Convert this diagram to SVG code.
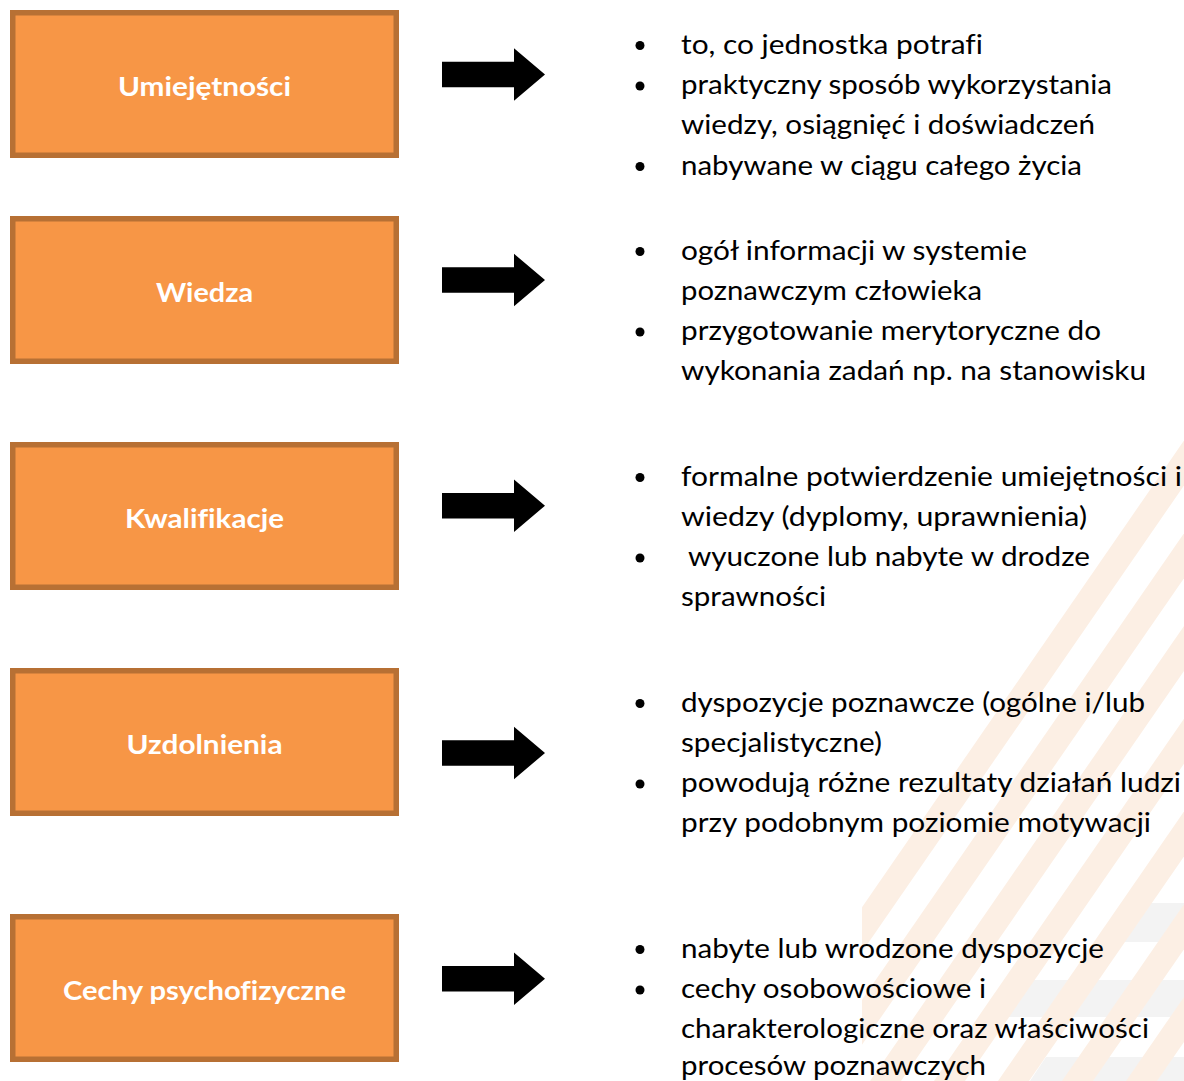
<svg xmlns="http://www.w3.org/2000/svg" width="1184" height="1081" viewBox="0 0 1184 1081">
<style>
.box{fill:#F79646;stroke:#B77034;stroke-width:5.5}
.lbl{font-family:Lato,"Liberation Sans",sans-serif;font-weight:700;font-size:27px;fill:#FFFFFF;text-anchor:middle;font-variant-ligatures:none}
.t{font-family:Lato,"Liberation Sans",sans-serif;font-size:27px;fill:#000000;font-variant-ligatures:none}
.arr{fill:#000000}
.bul{fill:#000000}
.stripe{fill:#FCEFE4}
.grey{fill:#F3F3F3}
</style>
<defs>
<clipPath id="wm"><polygon points="862,1081 862,904 1184,437 1184,1081"/></clipPath>
</defs>
<rect x="0" y="0" width="1184" height="1081" fill="#FFFFFF"/>
<g id="watermark" clip-path="url(#wm)">
<polygon class="grey" points="1150,903 1184,903 1184,942 1123,942"/>
<polygon class="grey" points="1025,980 1184,980 1184,1017 999,1017"/>
<polygon class="grey" points="1046,1057 1184,1057 1184,1081 1030,1081"/>
<polygon class="stripe" points="956,400 987,400 517,1081 486,1081"/>
<polygon class="stripe" points="1020,400 1051,400 581,1081 550,1081"/>
<polygon class="stripe" points="1084,400 1115,400 645,1081 614,1081"/>
<polygon class="stripe" points="1148,400 1179,400 709,1081 678,1081"/>
<polygon class="stripe" points="1212,400 1243,400 773,1081 742,1081"/>
<polygon class="stripe" points="1276,400 1307,400 837,1081 806,1081"/>
<polygon class="stripe" points="1340,400 1371,400 901,1081 870,1081"/>
<polygon class="stripe" points="1404,400 1435,400 965,1081 934,1081"/>
<polygon class="stripe" points="1468,400 1499,400 1029,1081 998,1081"/>
<polygon class="stripe" points="1532,400 1563,400 1093,1081 1062,1081"/>
<polygon class="stripe" points="1596,400 1627,400 1157,1081 1126,1081"/>
</g>
<g id="connectors">
<polygon class="arr" points="442,61.7 514,61.7 514,48.3 545,74.5 514,100.7 514,87.3 442,87.3"/>
<polygon class="arr" points="442,267.2 514,267.2 514,253.8 545,280 514,306.2 514,292.8 442,292.8"/>
<polygon class="arr" points="442,492.9 514,492.9 514,479.5 545,505.7 514,531.9 514,518.5 442,518.5"/>
<polygon class="arr" points="442,740.2 514,740.2 514,726.8 545,753 514,779.2 514,765.8 442,765.8"/>
<polygon class="arr" points="442,965.9 514,965.9 514,952.5 545,978.7 514,1004.9 514,991.5 442,991.5"/>
</g>
<g id="node-umiejetnosci">
<rect class="box" x="12.75" y="12.75" width="383.5" height="142.5"/>
<text class="lbl" x="204.5" y="95.5" textLength="173" lengthAdjust="spacingAndGlyphs">Umiejętności</text>
</g>
<g id="node-wiedza">
<rect class="box" x="12.75" y="218.75" width="383.5" height="142.5"/>
<text class="lbl" x="204.5" y="301.5" textLength="97" lengthAdjust="spacingAndGlyphs">Wiedza</text>
</g>
<g id="node-kwalifikacje">
<rect class="box" x="12.75" y="444.75" width="383.5" height="142.5"/>
<text class="lbl" x="204.5" y="527.5" textLength="159" lengthAdjust="spacingAndGlyphs">Kwalifikacje</text>
</g>
<g id="node-uzdolnienia">
<rect class="box" x="12.75" y="670.75" width="383.5" height="142.5"/>
<text class="lbl" x="204.5" y="753.5" textLength="156" lengthAdjust="spacingAndGlyphs">Uzdolnienia</text>
</g>
<g id="node-cechy">
<rect class="box" x="12.75" y="916.75" width="383.5" height="142.5"/>
<text class="lbl" x="204.5" y="999.5" textLength="283" lengthAdjust="spacingAndGlyphs">Cechy psychofizyczne</text>
</g>
<g id="desc-umiejetnosci">
<circle class="bul" cx="640" cy="45.5" r="4.5"/>
<circle class="bul" cx="640" cy="86" r="4.5"/>
<circle class="bul" cx="640" cy="166.5" r="4.5"/>
<text class="t" x="681" y="53.5" textLength="302" lengthAdjust="spacingAndGlyphs">to, co jednostka potrafi</text>
<text class="t" x="681" y="94" textLength="431" lengthAdjust="spacingAndGlyphs">praktyczny sposób wykorzystania</text>
<text class="t" x="681" y="134" textLength="414" lengthAdjust="spacingAndGlyphs">wiedzy, osiągnięć i doświadczeń</text>
<text class="t" x="681" y="174.5" textLength="401" lengthAdjust="spacingAndGlyphs">nabywane w ciągu całego życia</text>
</g>
<g id="desc-wiedza">
<circle class="bul" cx="640" cy="251.5" r="4.5"/>
<circle class="bul" cx="640" cy="332" r="4.5"/>
<text class="t" x="681" y="259.5" textLength="346" lengthAdjust="spacingAndGlyphs">ogół informacji w systemie</text>
<text class="t" x="681" y="299.5" textLength="301" lengthAdjust="spacingAndGlyphs">poznawczym człowieka</text>
<text class="t" x="681" y="340" textLength="420" lengthAdjust="spacingAndGlyphs">przygotowanie merytoryczne do</text>
<text class="t" x="681" y="380" textLength="465" lengthAdjust="spacingAndGlyphs">wykonania zadań np. na stanowisku</text>
</g>
<g id="desc-kwalifikacje">
<circle class="bul" cx="640" cy="477.5" r="4.5"/>
<circle class="bul" cx="640" cy="558" r="4.5"/>
<text class="t" x="681" y="485.5" textLength="501" lengthAdjust="spacingAndGlyphs">formalne potwierdzenie umiejętności i</text>
<text class="t" x="681" y="525.5" textLength="406" lengthAdjust="spacingAndGlyphs">wiedzy (dyplomy, uprawnienia)</text>
<text class="t" x="688" y="566" textLength="402" lengthAdjust="spacingAndGlyphs">wyuczone lub nabyte w drodze</text>
<text class="t" x="681" y="606" textLength="145" lengthAdjust="spacingAndGlyphs">sprawności</text>
</g>
<g id="desc-uzdolnienia">
<circle class="bul" cx="640" cy="703.5" r="4.5"/>
<circle class="bul" cx="640" cy="784" r="4.5"/>
<text class="t" x="681" y="711.5" textLength="464" lengthAdjust="spacingAndGlyphs">dyspozycje poznawcze (ogólne i/lub</text>
<text class="t" x="681" y="751.5" textLength="201" lengthAdjust="spacingAndGlyphs">specjalistyczne)</text>
<text class="t" x="681" y="792" textLength="500" lengthAdjust="spacingAndGlyphs">powodują różne rezultaty działań ludzi</text>
<text class="t" x="681" y="832" textLength="470" lengthAdjust="spacingAndGlyphs">przy podobnym poziomie motywacji</text>
</g>
<g id="desc-cechy">
<circle class="bul" cx="640" cy="949.5" r="4.5"/>
<circle class="bul" cx="640" cy="990" r="4.5"/>
<text class="t" x="681" y="957.5" textLength="423" lengthAdjust="spacingAndGlyphs">nabyte lub wrodzone dyspozycje</text>
<text class="t" x="681" y="998" textLength="305" lengthAdjust="spacingAndGlyphs">cechy osobowościowe i</text>
<text class="t" x="681" y="1037.5" textLength="468" lengthAdjust="spacingAndGlyphs">charakterologiczne oraz właściwości</text>
<text class="t" x="681" y="1074.5" textLength="305" lengthAdjust="spacingAndGlyphs">procesów poznawczych</text>
</g>
</svg>
